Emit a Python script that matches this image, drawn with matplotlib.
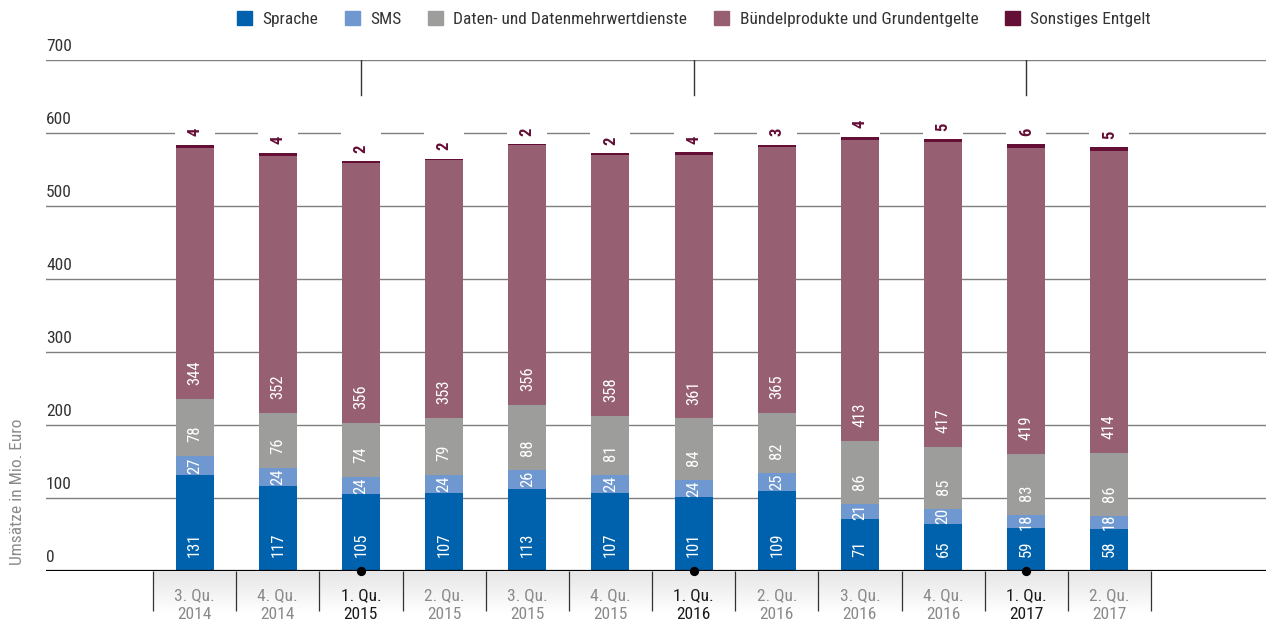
import numpy as np
import matplotlib
matplotlib.use("Agg")
import matplotlib.pyplot as plt
from matplotlib.patches import Patch
from matplotlib.colors import LinearSegmentedColormap

plt.rcParams['font.family'] = ['Roboto Condensed', 'Arial Narrow', 'Roboto', 'DejaVu Sans']

quarters = ["3. Qu.", "4. Qu.", "1. Qu.", "2. Qu.", "3. Qu.", "4. Qu.",
            "1. Qu.", "2. Qu.", "3. Qu.", "4. Qu.", "1. Qu.", "2. Qu."]
years = ["2014", "2014", "2015", "2015", "2015", "2015",
         "2016", "2016", "2016", "2016", "2017", "2017"]

sprache = [131, 117, 105, 107, 113, 107, 101, 109, 71, 65, 59, 58]
sms = [27, 24, 24, 24, 26, 24, 24, 25, 21, 20, 18, 18]
daten = [78, 76, 74, 79, 88, 81, 84, 82, 86, 85, 83, 86]
buendel = [344, 352, 356, 353, 356, 358, 361, 365, 413, 417, 419, 414]
sonstiges = [4, 4, 2, 2, 2, 2, 4, 3, 4, 5, 6, 5]

series_names = ["Sprache", "SMS", "Daten- und Datenmehrwertdienste",
                "Bündelprodukte und Grundentgelte", "Sonstiges Entgelt"]
colors = ["#0061AC", "#6F98D0", "#9D9D9C", "#975F72", "#650E36"]
y_ticks = [0, 100, 200, 300, 400, 500, 600, 700]

W, H = 1266, 627
fig = plt.figure(figsize=(W / 100, H / 100), dpi=100)

# gradient background under category labels
gax = fig.add_axes([153 / W, 1 - 613 / H, 998 / W, 42 / H], zorder=0)
cmap = LinearSegmentedColormap.from_list("g", ["#e6e6e6", "#ffffff"])
gax.imshow(np.linspace(0, 1, 100).reshape(-1, 1), aspect="auto", cmap=cmap)
gax.axis("off")

ax = fig.add_axes([46 / W, 1 - 571 / H, 1220 / W, 511 / H], zorder=1)
ax.patch.set_alpha(0)
n = len(quarters)
x = np.arange(n)
cw = 998 / 12
ax.set_xlim((46 - 194.6) / cw, (1266 - 194.6) / cw)
ax.set_ylim(0, 700)
for s in ax.spines.values():
    s.set_visible(False)

for v in y_ticks[1:]:
    ax.axhline(v, color="#7f7f7f", lw=1, zorder=0.5)
ax.axhline(0, color="black", lw=1.6, zorder=4)
for v in y_ticks:
    ax.annotate(str(v), xy=(0, v), xycoords=("axes fraction", "data"),
                xytext=(0, 4), textcoords="offset points", ha="left", va="bottom",
                fontsize=12.5, color="#333333", annotation_clip=False)

series = [sprache, sms, daten, buendel, sonstiges]
bw = 38 / cw
bottom = np.zeros(n)
for k, (vals, c) in enumerate(zip(series, colors)):
    vals = np.array(vals, dtype=float)
    ax.bar(x, vals, bw, bottom=bottom, color=c, zorder=2, linewidth=0)
    if k < 4:
        for i in range(n):
            if k == 1:
                ax.text(x[i], bottom[i] + vals[i] / 2, str(int(vals[i])), rotation=90,
                        ha="center", va="center", color="white", fontsize=12, zorder=3)
            else:
                ax.annotate(str(int(vals[i])), xy=(x[i], bottom[i]), xytext=(0, 10),
                            textcoords="offset points", rotation=90, ha="center",
                            va="bottom", color="white", fontsize=12, zorder=3)
    bottom = bottom + vals

for i in range(n):
    ax.annotate(str(sonstiges[i]), xy=(x[i], bottom[i]), xytext=(0, 9),
                textcoords="offset points", rotation=90, ha="center", va="center",
                color=colors[4], fontsize=12, fontweight="bold", zorder=1,
                bbox=dict(boxstyle="square,pad=0.75", fc="white", ec="none"))

# x axis: separators
ax.set_yticks([])
ax.set_xticks(np.arange(-0.5, n, 1))
ax.set_xticklabels([])
ax.tick_params(axis="x", length=29, width=0.9, color="#333333", direction="out")

year_starts = [i for i, q in enumerate(quarters) if q.startswith("1.")]
for i in range(n):
    col = "#1a1a1a" if i in year_starts else "#8a8a8a"
    ax.annotate(f"{quarters[i]}\n{years[i]}", xy=(x[i], 0), xytext=(0, -12),
                textcoords="offset points", ha="center", va="top", fontsize=12.5,
                color=col, linespacing=1.35, annotation_clip=False)

ax.scatter(year_starts, [0] * len(year_starts), s=32, color="black", zorder=5,
           clip_on=False)
for i in year_starts:
    ax.plot([i, i], [700, 652], color="#333333", lw=1, zorder=1)

fig.text(18 / W, 1 - 492 / H, "Umsätze in Mio. Euro", rotation=90, ha="center",
         va="center", fontsize=12.5, color="#8a8a8a")

handles = [Patch(color=c, label=l) for c, l in zip(colors, series_names)]
fig.legend(handles=handles, loc="center", bbox_to_anchor=(694 / W, 1 - 19 / H),
           ncol=5, frameon=False, fontsize=12.5, handlelength=0.85,
           handleheight=0.85, columnspacing=1.55, handletextpad=0.6,
           labelcolor="#333333")

fig.savefig("out.png", dpi=100)
